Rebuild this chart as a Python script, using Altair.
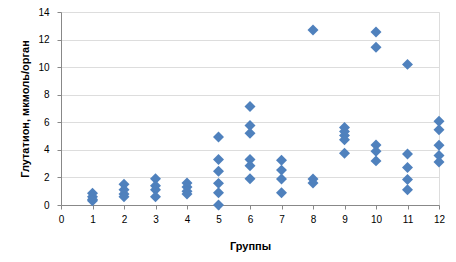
import altair as alt
import pandas as pd

groups = [1]*4 + [2]*4 + [3]*4 + [4]*4 + [5]*6 + [6]*6 + [7]*4 + [8]*3 + [9]*5 + [10]*5 + [11]*5 + [12]*5
values = [0.85, 0.6, 0.4, 0.3,
          1.5, 1.1, 0.8, 0.6,
          1.9, 1.4, 1.1, 0.6,
          1.6, 1.3, 1.0, 0.8,
          4.93, 3.3, 2.45, 1.57, 0.89, 0.0,
          7.14, 5.77, 5.2, 3.3, 2.84, 1.9,
          3.25, 2.53, 1.88, 0.89,
          12.7, 1.88, 1.6,
          5.62, 5.34, 5.05, 4.74, 3.75,
          12.55, 11.45, 4.35, 3.9, 3.2,
          10.2, 3.7, 2.72, 1.85, 1.1,
          6.08, 5.46, 4.33, 3.59, 3.12]

x_ticks = list(range(0, 13))
y_ticks = list(range(0, 15, 2))

df = pd.DataFrame({"group": groups, "value": values})

FONT = "Open Sans"

chart = alt.Chart(df).mark_point(
    shape="diamond", filled=True, opacity=1, size=120, color="#4F81BD"
).encode(
    x=alt.X("group:Q", title="Группы",
            scale=alt.Scale(domain=[0, 12], nice=False, zero=False),
            axis=alt.Axis(values=x_ticks, grid=False, tickSize=4, labelPadding=5,
                          titlePadding=16, labelFlush=False)),
    y=alt.Y("value:Q", title="Глутатион, мкмоль/орган",
            scale=alt.Scale(domain=[0, 14], nice=False),
            axis=alt.Axis(values=y_ticks, grid=True, tickSize=4, labelPadding=8,
                          titlePadding=7)),
).properties(
    width=378, height=193,
    autosize=alt.AutoSizeParams(type="none"),
    padding={"left": 61, "top": 12, "right": 17, "bottom": 57},
).configure_view(
    stroke=None
).configure_axis(
    labelFont=FONT, titleFont=FONT, labelFontSize=11.5, titleFontSize=11,
    labelColor="#595959", titleColor="#262626", titleFontWeight="bold",
    domainColor="#A6A6A6", tickColor="#A6A6A6", gridColor="#D9D9D9",
).configure(background="white")

chart.save("out.html", embed_options={"renderer": "svg", "actions": False})
